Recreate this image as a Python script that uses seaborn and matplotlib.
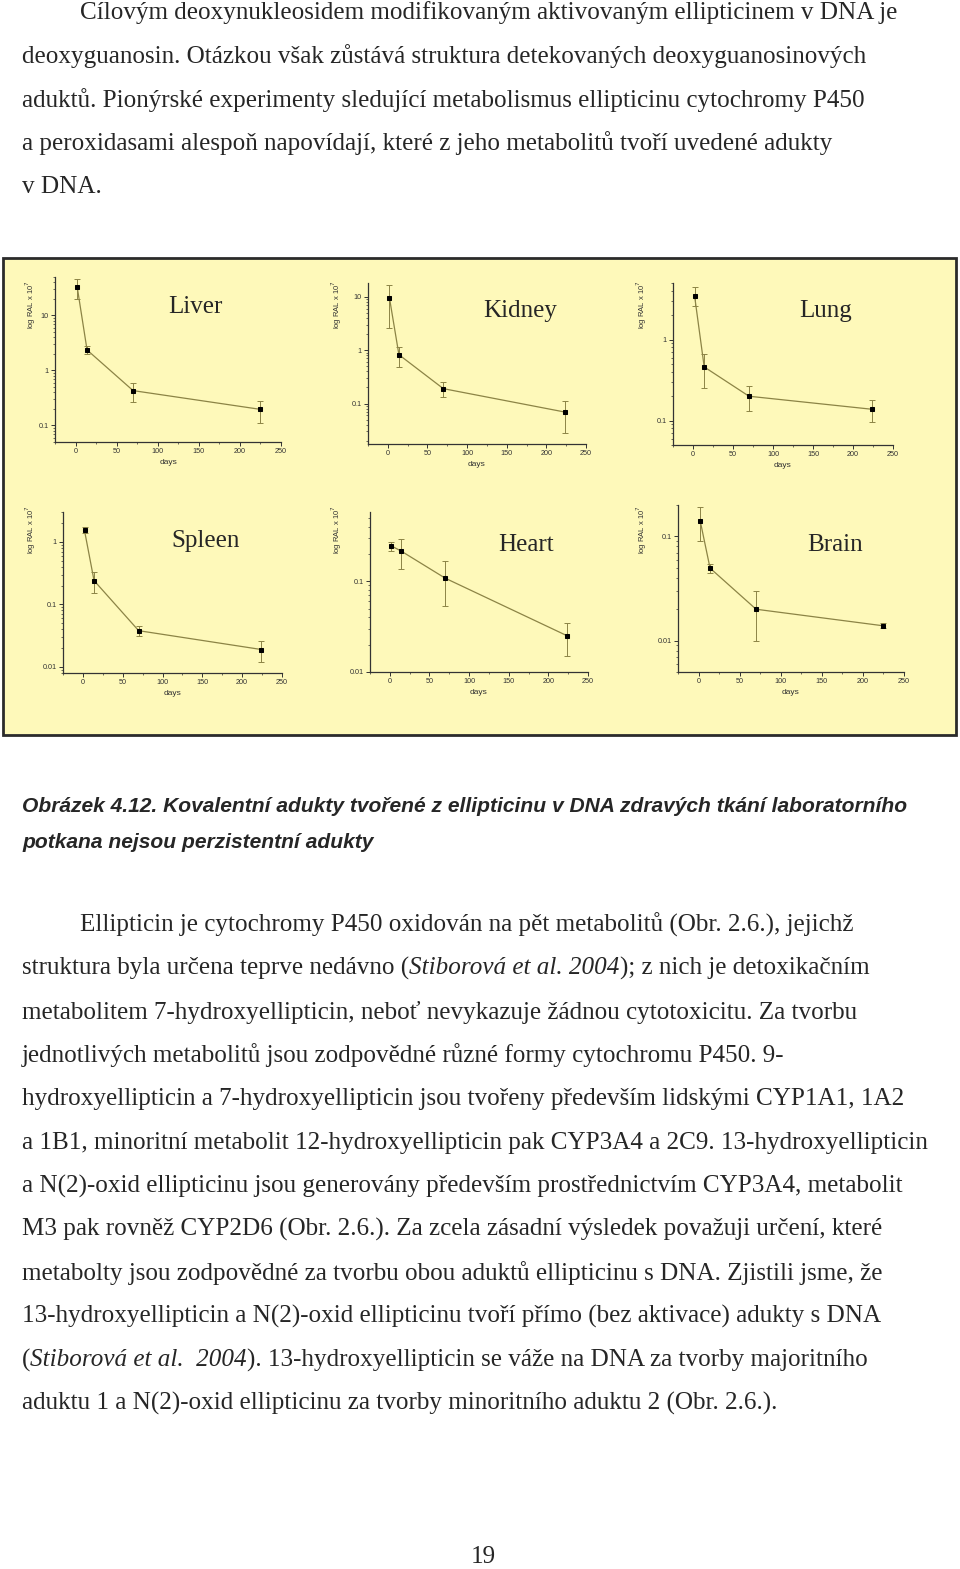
import numpy as np
import matplotlib
matplotlib.use("Agg")
import matplotlib.pyplot as plt
import seaborn as sns
from matplotlib.patches import Rectangle
from matplotlib.ticker import FixedLocator, FuncFormatter, MultipleLocator, LogLocator, NullFormatter

# days after dosing
days = [2, 14, 70, 224]

organs = ["Liver", "Kidney", "Lung", "Spleen", "Heart", "Brain"]

liver = [33, 2.36, 0.43, 0.197]
liver_lo = [20, 2.0, 0.27, 0.112]
liver_hi = [46, 2.8, 0.6, 0.28]

kidney = [9.6, 0.82, 0.19, 0.069]
kidney_lo = [2.6, 0.49, 0.13, 0.028]
kidney_hi = [16.5, 1.15, 0.25, 0.11]

lung = [3.46, 0.46, 0.2, 0.138]
lung_lo = [2.6, 0.25, 0.13, 0.097]
lung_hi = [4.4, 0.67, 0.27, 0.178]

spleen = [1.52, 0.24, 0.038, 0.019]
spleen_lo = [1.36, 0.15, 0.031, 0.012]
spleen_hi = [1.7, 0.33, 0.045, 0.026]

heart = [0.245, 0.216, 0.108, 0.025]
heart_lo = [0.214, 0.137, 0.053, 0.015]
heart_hi = [0.27, 0.295, 0.166, 0.035]

brain = [0.141, 0.0496, 0.02, 0.0139]
brain_lo = [0.091, 0.045, 0.01, 0.0133]
brain_hi = [0.19, 0.054, 0.03, 0.0147]

values = [liver, kidney, lung, spleen, heart, brain]
lows = [liver_lo, kidney_lo, lung_lo, spleen_lo, heart_lo, brain_lo]
highs = [liver_hi, kidney_hi, lung_hi, spleen_hi, heart_hi, brain_hi]
ylims = [(0.05, 50), (0.0175, 18), (0.05, 5), (0.008, 3), (0.01, 0.58), (0.005, 0.2)]
yticks = [[0.1, 1, 10], [0.1, 1, 10], [0.1, 1], [0.01, 0.1, 1], [0.01, 0.1], [0.01, 0.1]]

W, H = 960, 1569
sns.set_style("ticks")
plt.rcParams["font.family"] = ["Liberation Serif", "DejaVu Serif"]

fig = plt.figure(figsize=(W / 100, H / 100), dpi=100)
fig.patch.set_facecolor("white")


def fx(x):
    return x / W


def fy(y):
    return 1 - y / H


# yellow frame, drawn behind the panels
fig.patches.append(Rectangle((fx(3), fy(735)), fx(953), (735 - 258) / H,
                             transform=fig.transFigure, facecolor="#fef9ba",
                             edgecolor="#2b2b2b", lw=2, zorder=-5))

# panel rectangles in page pixels: left, right, top, bottom
rects = [(55, 281, 277, 442), (368, 586, 283, 444), (673, 893, 283, 445),
         (63, 282, 512, 673), (370, 588, 512, 672), (678, 904, 505, 672)]
title_pos = [(195, 307), (520, 311), (826, 311), (206, 541), (526, 545), (835, 545)]
ylab_x = [38, 344, 649]
line_col = "#8c8446"
sans = ["Liberation Sans", "DejaVu Sans"]


def fmt(v, pos):
    return "%g" % v


for i, name in enumerate(organs):
    l, r, t, b = rects[i]
    ax = fig.add_axes([fx(l), fy(b), (r - l) / W, (b - t) / H])
    ax.set_facecolor("none")
    v = np.array(values[i])
    lo = np.array(lows[i])
    hi = np.array(highs[i])
    ax.errorbar(days, v, yerr=[v - lo, hi - v], fmt="none", ecolor=line_col,
                elinewidth=0.7, capsize=2, capthick=0.7, zorder=2)
    sns.lineplot(x=days, y=v, ax=ax, color=line_col, lw=0.9, marker="s",
                 markersize=3.2, markerfacecolor="black", markeredgecolor="black", zorder=3)
    ax.set_yscale("log")
    ax.set_xlim(-25, 250)
    ax.set_ylim(*ylims[i])
    ax.yaxis.set_major_locator(FixedLocator(yticks[i]))
    ax.yaxis.set_major_formatter(FuncFormatter(fmt))
    ax.yaxis.set_minor_locator(LogLocator(base=10, subs=np.arange(2, 10), numticks=20))
    ax.yaxis.set_minor_formatter(NullFormatter())
    ax.xaxis.set_major_locator(MultipleLocator(50))
    ax.xaxis.set_minor_locator(MultipleLocator(25))
    for s in ["top", "right"]:
        ax.spines[s].set_visible(False)
    for s in ["left", "bottom"]:
        ax.spines[s].set_color("#333333")
        ax.spines[s].set_linewidth(0.9)
    ax.tick_params(which="major", direction="out", length=3, width=0.7,
                   labelsize=5.2, colors="#333333", pad=1.5)
    ax.tick_params(which="minor", direction="out", length=1.5, width=0.5, colors="#333333")
    for lab in ax.get_xticklabels() + ax.get_yticklabels():
        lab.set_family(sans)
    ax.set_xlabel("days", fontsize=6, family=sans, labelpad=3, color="#333333")
    ax.set_ylabel(r"log RAL x 10$^{7}$", fontsize=5.5, family=sans, color="#333333")
    lx = (ylab_x[i % 3] - l) / (r - l)
    ly = (b - (305 if i < 3 else 530)) / (b - t)
    ax.yaxis.set_label_coords(lx, ly)
    fig.text(fx(title_pos[i][0]), fy(title_pos[i][1]), name, fontsize=18,
             ha="center", va="center", family=["Liberation Serif", "DejaVu Serif"])

serif = ["Liberation Serif", "DejaVu Serif"]
body_fs = 18.1
renderer = fig.canvas.get_renderer()


def line(x, y, parts):
    # parts: list of (text, italic)
    for txt, it in parts:
        t = fig.text(fx(x), fy(y), txt, fontsize=body_fs, family=serif,
                     style="italic" if it else "normal", va="center", ha="left")
        bb = t.get_window_extent(renderer=renderer)
        x += bb.width


para1 = [
    (80, "Cílovým deoxynukleosidem modifikovaným aktivovaným ellipticinem v DNA je"),
    (22, "deoxyguanosin. Otázkou však zůstává struktura detekovaných deoxyguanosinových"),
    (22, "aduktů. Pionýrské experimenty sledující metabolismus ellipticinu cytochromy P450"),
    (22, "a peroxidasami alespoň napovídají, které z jeho metabolitů tvoří uvedené adukty"),
    (22, "v DNA."),
]
for k, (x0, s) in enumerate(para1):
    line(x0, 13 + k * 43.5, [(s, False)])

cap = ["Obrázek 4.12. Kovalentní adukty tvořené z ellipticinu v DNA zdravých tkání laboratorního",
       "potkana nejsou perzistentní adukty"]
for k, s in enumerate(cap):
    fig.text(fx(22), fy(806 + k * 36), s, fontsize=15.1, weight="bold", style="italic",
             family=sans, va="center", ha="left")

para2 = [
    (80, [("Ellipticin je cytochromy P450 oxidován na pět metabolitů (Obr. 2.6.), jejichž", False)]),
    (22, [("struktura byla určena teprve nedávno (", False), ("Stiborová et al. 2004", True),
          ("); z nich je detoxikačním", False)]),
    (22, [("metabolitem 7-hydroxyellipticin, neboť nevykazuje žádnou cytotoxicitu. Za tvorbu", False)]),
    (22, [("jednotlivých metabolitů jsou zodpovědné různé formy cytochromu P450. 9-", False)]),
    (22, [("hydroxyellipticin a 7-hydroxyellipticin jsou tvořeny především lidskými CYP1A1, 1A2", False)]),
    (22, [("a 1B1, minoritní metabolit 12-hydroxyellipticin pak CYP3A4 a 2C9. 13-hydroxyellipticin", False)]),
    (22, [("a N(2)-oxid ellipticinu jsou generovány především prostřednictvím CYP3A4, metabolit", False)]),
    (22, [("M3 pak rovněž CYP2D6 (Obr. 2.6.). Za zcela zásadní výsledek považuji určení, které", False)]),
    (22, [("metabolty jsou zodpovědné za tvorbu obou aduktů ellipticinu s DNA. Zjistili jsme, že", False)]),
    (22, [("13-hydroxyellipticin a N(2)-oxid ellipticinu tvoří přímo (bez aktivace) adukty s DNA", False)]),
    (22, [("(", False), ("Stiborová et al.  2004", True),
          ("). 13-hydroxyellipticin se váže na DNA za tvorby majoritního", False)]),
    (22, [("aduktu 1 a N(2)-oxid ellipticinu za tvorby minoritního aduktu 2 (Obr. 2.6.).", False)]),
]
for k, (x0, parts) in enumerate(para2):
    line(x0, 925 + k * 43.5, parts)

fig.text(fx(483), fy(1557), "19", fontsize=body_fs, family=serif, ha="center", va="center")

fig.savefig("out.png", dpi=100)
